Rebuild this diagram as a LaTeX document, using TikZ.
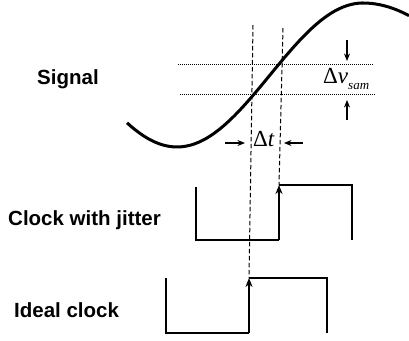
\documentclass[tikz,border=0pt]{standalone}
\usepackage{fontspec}
\setmainfont{Liberation Serif}
\setsansfont{Liberation Sans}
\usetikzlibrary{arrows.meta}

\begin{document}
\begin{tikzpicture}[
  x=1pt, y=-1pt,
  heading/.style={anchor=base west, inner sep=0pt, font=\sffamily\bfseries\fontsize{20.5}{23}\selectfont},
  sym/.style={anchor=base west, inner sep=0pt, font=\fontsize{23}{26}\selectfont},
  wave/.style={line width=3pt},
  clk/.style={line width=2.6pt},
  guide/.style={line width=1pt, dash pattern=on 4.5pt off 2.5pt},
  dotline/.style={line width=1pt, dash pattern=on 1pt off 1pt},
  arrow/.style={-{Stealth[length=7.5pt,width=6pt]}, line width=1.1pt},
  rise/.style={clk, -{Stealth[length=9pt,width=7pt]}}
]
\useasboundingbox (0,0) rectangle (409,340);

% labels
\node[heading] (sig) at (37,84) {Signal};
\node[heading] (jit) at (8,225) {Clock with jitter};
\node[heading] (ideal) at (14,317) {Ideal clock};

% signal
\draw[wave] plot[domain=127:363, samples=60, smooth] (\x, {75+72*cos(0.9677*(\x-177))})
  -- plot[domain=363:409, samples=12, smooth] (\x, {3+72*(1-cos(0.75*(\x-363)))});

% sampling levels
\coordinate (hiL) at (178,64);
\coordinate (hiR) at (373,64);
\coordinate (loL) at (180,94);
\coordinate (loR) at (375,94);
\draw[dotline] (hiL) -- (hiR);
\draw[dotline] (loL) -- (loR);

% clock with jitter
\coordinate (jlo) at (279,240);
\coordinate (jhi) at (279,185);
\draw[clk] (196,187) -- (196,240) -- (jlo);
\draw[rise] (jlo) -- (jhi);
\draw[clk] (jhi) -- (352,185) -- (352,240);

% ideal clock
\coordinate (ilo) at (249,333);
\coordinate (ihi) at (249,278);
\draw[clk] (166,278) -- (166,333) -- (ilo);
\draw[rise] (ilo) -- (ihi);
\draw[clk] (ihi) -- (327,278) -- (327,333);

% sampling instants
\coordinate (itop) at (253,25);
\coordinate (jtop) at (283,28);
\draw[guide] (itop) -- (ihi);
\draw[guide] (jtop) -- (jhi);

% delta v
\node[sym] (dv) at (323,83) {Δ\textit{v}\raisebox{-0.3em}{\fontsize{13}{13}\selectfont\textit{sam}}};
\coordinate (dvtop) at (347,40);
\coordinate (dvbot) at (347,120);
\draw[arrow] (dvtop) -- (347,61);
\draw[arrow] (dvbot) -- (347,100);

% delta t
\node[sym] (dt) at (253,146) {Δ\textit{t}};
\coordinate (dtL) at (225,143);
\coordinate (dtR) at (303,143);
\draw[arrow] (dtL) -- (245,143);
\draw[arrow] (dtR) -- (284,143);

\end{tikzpicture}
\end{document}
